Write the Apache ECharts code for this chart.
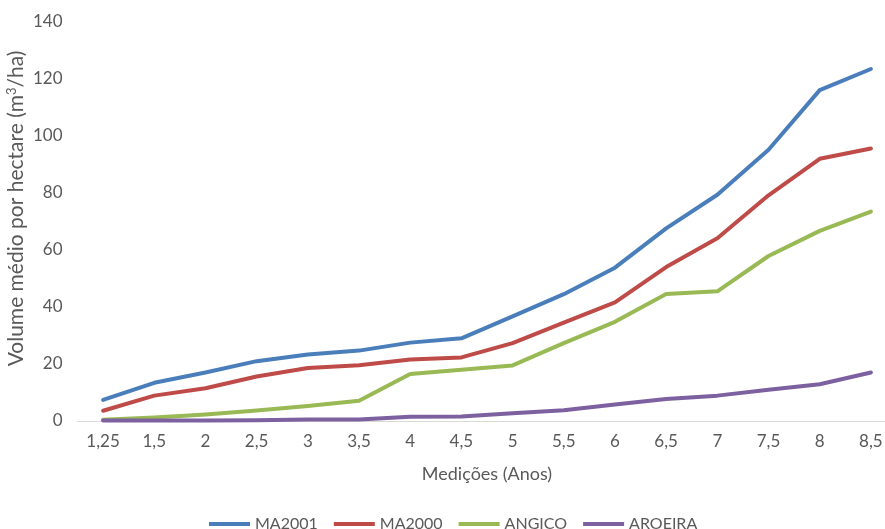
<!DOCTYPE html>
<html>
<head>
<meta charset="utf-8">
<script src="https://cdn.jsdelivr.net/npm/echarts@6/dist/echarts.min.js"></script>
<style>
  html, body { margin: 0; padding: 0; background: #fff; }
  #chart { width: 885px; height: 529px; }
</style>
</head>
<body>
<div id="chart"></div>
<script>
// Measurement ages (years)
const categories = ['1,25', '1,5', '2', '2,5', '3', '3,5', '4', '4,5', '5', '5,5', '6', '6,5', '7', '7,5', '8', '8,5'];

// Mean volume per hectare (m³/ha) for each stand
const ma2001 = [7.4, 13.4, 17.0, 21.0, 23.3, 24.7, 27.5, 29.0, 36.7, 44.5, 53.8, 67.6, 79.4, 95.2, 116.1, 123.5];
const ma2000 = [3.6, 8.9, 11.5, 15.6, 18.6, 19.6, 21.6, 22.3, 27.3, 34.5, 41.6, 54.0, 64.1, 79.2, 92.0, 95.6];
const angico = [0.4, 1.2, 2.3, 3.7, 5.3, 7.1, 16.5, 18.0, 19.5, 27.3, 34.8, 44.6, 45.5, 57.9, 66.7, 73.5];
const aroeira = [0.2, 0.2, 0.2, 0.3, 0.5, 0.5, 1.5, 1.6, 2.7, 3.8, 5.8, 7.7, 8.9, 11.0, 12.9, 17.0];

const seriesNames = ['MA2001', 'MA2000', 'ANGICO', 'AROEIRA'];
const seriesColors = ['#4a7ebb', '#be4b48', '#98b954', '#7d60a0'];
const seriesData = [ma2001, ma2000, angico, aroeira];

const yTicks = { min: 0, max: 140, interval: 20 };

const font = 'Lato, "Open Sans", sans-serif';
const textColor = '#595959';

const chart = echarts.init(document.getElementById('chart'));
chart.setOption({
  animation: false,
  backgroundColor: '#ffffff',
  textStyle: { fontFamily: font },
  grid: { left: 77.5, width: 819, top: 22, bottom: 108, outerBoundsMode: 'none', containLabel: false },
  legend: {
    bottom: -8,
    left: 204,
    itemWidth: 41,
    itemHeight: 4,
    itemGap: 16,
    icon: 'rect',
    textStyle: { fontFamily: font, fontSize: 16, color: textColor },
    data: seriesNames
  },
  xAxis: {
    type: 'category',
    data: categories,
    boundaryGap: true,
    name: 'Medições (Anos)',
    nameLocation: 'middle',
    nameGap: 44,
    nameTextStyle: { fontFamily: font, fontSize: 18, color: textColor },
    axisLine: { lineStyle: { color: '#d9d9d9', width: 1 } },
    axisTick: { show: false },
    axisLabel: { color: textColor, fontSize: 17, margin: 12, interval: 0 },
    splitLine: { show: false }
  },
  yAxis: {
    type: 'value',
    min: yTicks.min,
    max: yTicks.max,
    interval: yTicks.interval,
    name: 'Volume médio por hectare (m{sup|3}/ha)',
    nameLocation: 'middle',
    nameGap: 50,
    nameMoveOverlap: false,
    nameRotate: 90,
    nameTextStyle: {
      fontFamily: font,
      fontSize: 21,
      color: textColor,
      padding: [0, 0, 0, 26],
      rich: {
        sup: { fontFamily: font, fontSize: 13, color: textColor, padding: [0, 0, 9, 0] }
      }
    },
    axisLine: { show: false },
    axisTick: { show: false },
    axisLabel: { color: textColor, fontSize: 17, margin: 15 },
    splitLine: { show: false }
  },
  series: seriesNames.map((name, i) => ({
    name: name,
    type: 'line',
    data: seriesData[i],
    symbol: 'none',
    smooth: false,
    color: seriesColors[i],
    lineStyle: { width: 4, color: seriesColors[i], cap: 'round', join: 'round' }
  }))
});
</script>
</body>
</html>
